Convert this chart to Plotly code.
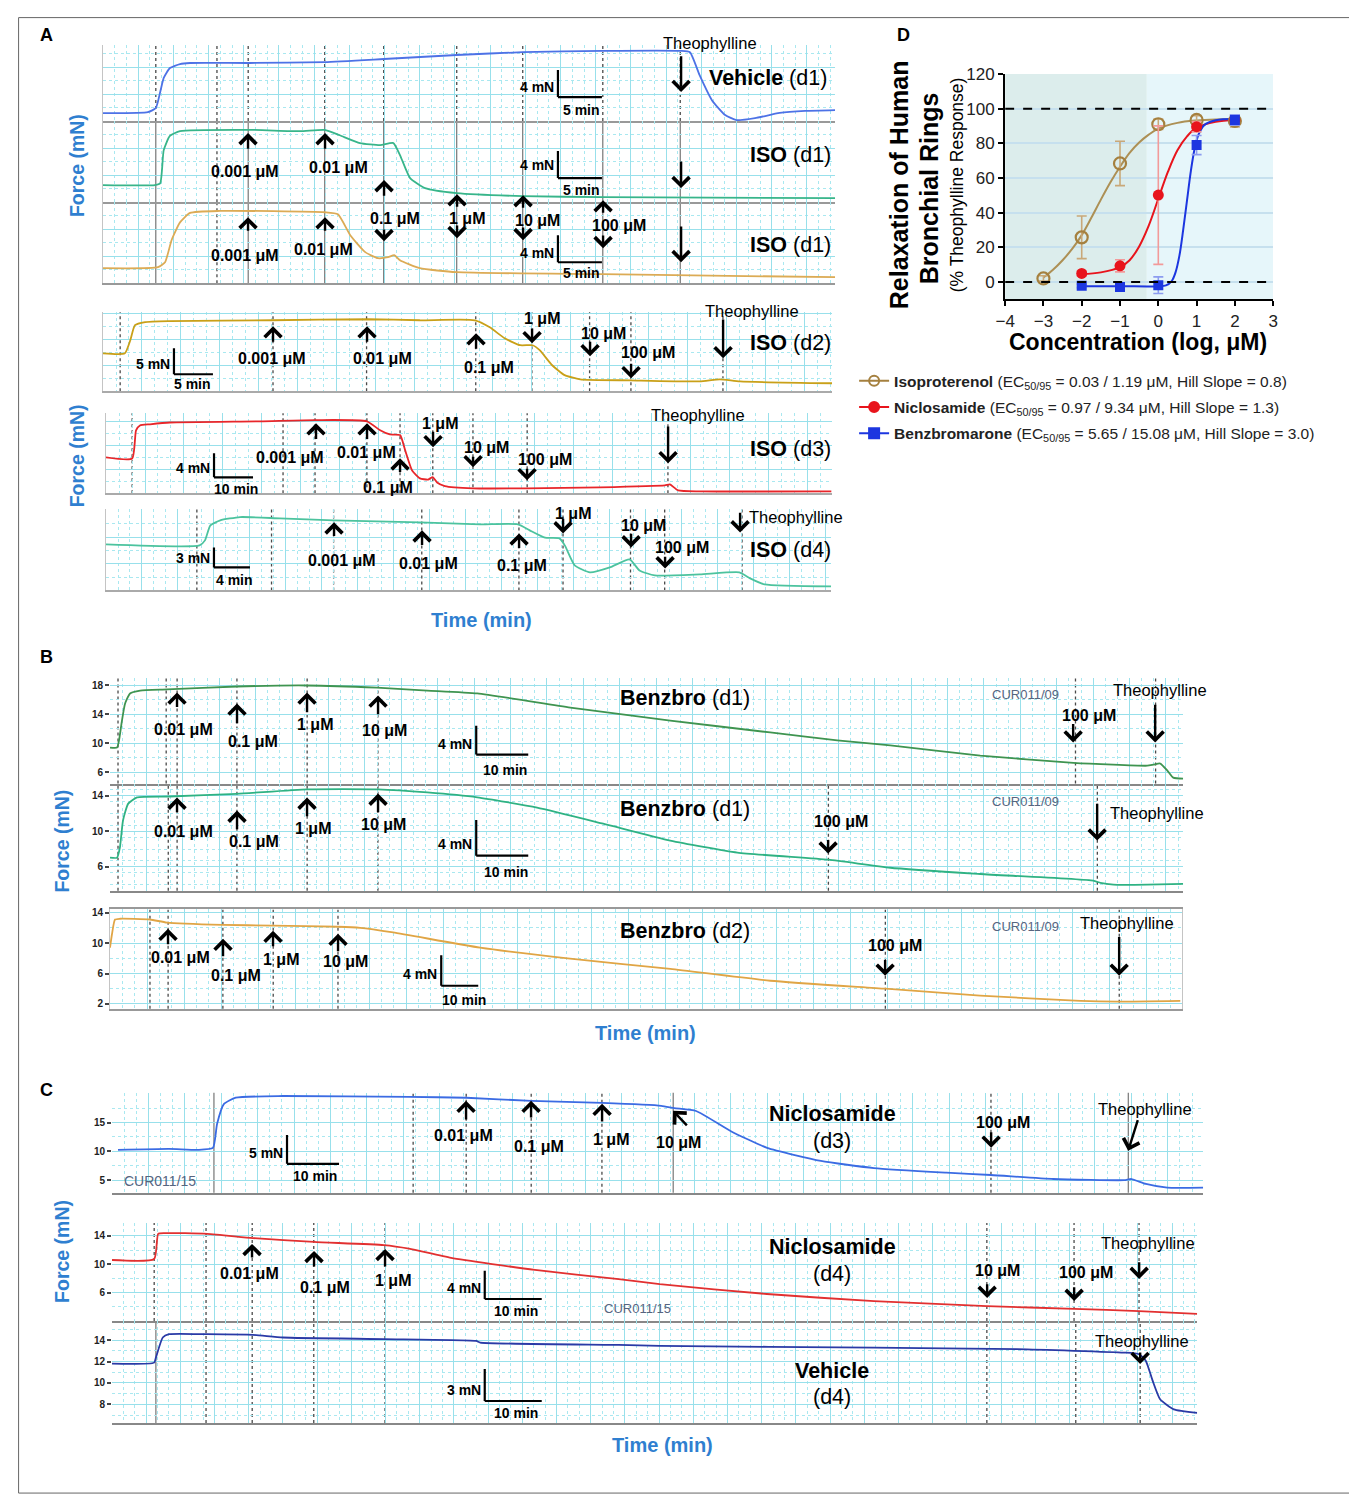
import plotly.graph_objects as go

W, H = 1357, 1498
FW, FH = W, H                 # figure size
# page placement of the figure as observed in the photographed page
OX, OY = 8, 8
SX, SY = 0.9888, 0.9926
CX, CY = 10.1, 9.06
FONT = "Liberation Sans, Arial, Helvetica, sans-serif"

# ===================== DATA =====================
# Panel A - isometric force recordings (time in min, force in mN)
a1_time = [0, 5.1, 6.0, 6.5, 6.9, 7.6, 8.75, 9.9, 16.7, 25.2, 31.9, 40.2, 47.7, 56.8, 65.6, 66.7, 67.8, 69.2, 70.7, 72.0, 74.1, 76.9, 79.8, 83.2]
a1_force = [1.19, 1.33, 1.93, 4.3, 6.4, 7.85, 8.44, 8.6, 8.6, 8.74, 9.19, 9.78, 10.2, 10.4, 10.4, 10.2, 6.8, 3.1, 0.9, 0.15, 0.44, 1.2, 1.5, 1.63]

a2_time = [0, 5.9, 6.5, 6.9, 7.6, 8.75, 16.7, 22.4, 25.2, 26.9, 29.2, 31.5, 33.0, 33.75, 34.9, 36.6, 40.2, 47.7, 56.8, 83.2]
a2_force = [2.52, 2.52, 2.8, 7.7, 9.8, 10.5, 10.7, 10.5, 10.7, 9.9, 8.74, 8.44, 8.74, 6.96, 3.56, 2.07, 1.33, 0.89, 0.74, 0.59]

a3_time = [0, 6.25, 7.05, 7.8, 8.75, 9.9, 13.3, 25.2, 26.7, 28.1, 29.8, 31.25, 32.4, 33.1, 33.75, 36.0, 40.2, 56.8, 83.2]
a3_force = [2.22, 2.37, 3.1, 6.4, 9.0, 10.4, 10.7, 10.5, 10.2, 7.1, 4.6, 3.7, 3.85, 4.15, 3.4, 2.22, 1.63, 1.33, 0.89]

a123_events = [6.0, 12.95, 16.5, 25.2, 31.9, 40.2, 47.7, 56.8, 65.6]

a4_time = [0, 2.8, 3.5, 4.1, 5.4, 8.6, 21.7, 34.0, 40.6, 47.7, 49.6, 51.5, 53.5, 55.1, 56.0, 57.6, 59.2, 61.2, 67.6, 76.5, 79.1, 81.7, 93.5]
a4_force = [7.3, 7.3, 9.8, 12.7, 13.3, 13.5, 13.65, 13.85, 13.65, 13.65, 12.3, 10.2, 8.85, 8.85, 7.9, 5.0, 3.1, 2.3, 2.1, 1.9, 2.3, 1.9, 1.54]
a4_events = [2.2, 21.8, 33.8, 47.8, 55.0, 62.4, 67.7, 79.5]

a5_time = [0, 6.7, 7.7, 8.7, 11.3, 16.4, 39.5, 53.8, 66.9, 70.3, 72.8, 75.4, 76.7, 78.5, 80.5, 82.6, 83.8, 84.9, 86.9, 94.1, 107.9, 126.7, 143.3, 144.6, 146.7, 152.3, 186]
a5_force = [6.0, 5.8, 10.5, 11.3, 11.5, 11.8, 12.0, 12.2, 12.0, 10.5, 9.8, 9.7, 7.2, 3.8, 2.5, 2.3, 2.7, 1.8, 1.2, 0.83, 0.83, 1.0, 1.33, 1.5, 0.5, 0.33, 0.33]
a5_events = [6.7, 45.4, 53.6, 66.9, 75.4, 83.8, 94.1, 108, 144.1]

a6_time = [0, 10.4, 11.0, 11.6, 12.7, 14.9, 19.3, 25.3, 34.9, 41.6, 45.8, 47.1, 48.8, 50.4, 51.0, 52.1, 53.8, 56.0, 58.2, 59.3, 61.0, 66.0, 70.4, 71.6, 73.2, 80.6]
a6_force = [6.9, 6.75, 7.5, 9.75, 10.5, 11.0, 10.8, 10.5, 10.2, 9.9, 9.9, 9.0, 7.9, 7.8, 6.75, 3.75, 2.7, 3.45, 4.65, 3.0, 2.25, 2.4, 2.7, 1.8, 0.9, 0.6]
a6_events = [10.1, 18.4, 25.3, 35.1, 45.9, 50.8, 58.3, 62.1, 70.7]

# Panel B - benzbromarone
b1_time = [0, 1.35, 1.73, 2.3, 2.9, 3.85, 5.8, 11.0, 24.4, 37.9, 51.3, 61.0, 70.6, 88.5, 107.7, 126.9, 139.8, 150, 167.3, 185.2, 199.4, 200.6, 201.9, 203.3, 204.4, 206.3]
b1_force = [9.41, 9.41, 10.4, 13.15, 15.5, 16.9, 17.3, 17.45, 17.86, 18.0, 17.7, 17.3, 16.9, 14.95, 13.15, 11.5, 10.4, 9.7, 8.3, 7.3, 6.9, 7.05, 7.2, 6.2, 5.25, 5.1]
b1_events = [1.54, 10.8, 12.9, 24.4, 37.9, 51.5, 185.6, 201]

b2_time = [0, 1.35, 1.9, 2.5, 3.5, 5.2, 11.5, 24.4, 37.9, 51.5, 61.0, 70.6, 82.1, 94.8, 107.7, 120.6, 138.1, 150, 167.3, 189, 190.4, 192.9, 199.4, 206.3]
b2_force = [7.03, 7.03, 8.16, 11.2, 13.1, 13.8, 13.9, 14.2, 14.7, 14.7, 14.35, 13.8, 12.65, 10.85, 8.95, 7.6, 6.8, 5.9, 5.2, 4.45, 4.2, 4.0, 4.0, 4.1]
b2_events = [1.54, 11.2, 12.9, 24.4, 37.9, 51.5, 138.1, 189.8]

b3_time = [0, 0.54, 1.35, 2.7, 10.8, 15.4, 30.5, 44.1, 61.6, 67.6, 76.5, 100, 124.3, 151.4, 178.4, 209.5, 235.1, 262.2, 272.4, 289.2]
b3_force = [9.4, 11.2, 13.1, 13.2, 13.1, 12.7, 12.4, 12.3, 12.15, 12.0, 11.4, 9.4, 7.95, 6.6, 5.05, 4.0, 3.1, 2.4, 2.3, 2.4]
b3_events = [10.8, 15.7, 30.5, 44.1, 61.6, 209.5, 272.7]

# Panel C - niclosamide / vehicle
c1_time = [1.15, 10.96, 16.5, 19.4, 20.2, 21.5, 23.8, 32.9, 57.1, 68.1, 80.6, 94.2, 105.6, 108.1, 112.3, 119.0, 125.96, 136.3, 146.5, 160.4, 169.0, 181.0, 194.6, 196.0, 198.8, 202.9, 209.8]
c1_force = [10.26, 10.43, 10.26, 10.6, 14.76, 18.2, 19.3, 19.6, 19.45, 19.3, 18.75, 18.4, 17.9, 17.5, 17.0, 13.5, 10.6, 8.35, 7.1, 6.3, 5.9, 5.2, 5.0, 5.2, 4.35, 3.7, 3.7]
c1_events = [19.6, 57.9, 68.1, 80.6, 94.2, 107.9, 169.0, 195.4]

c2_time = [0, 7.4, 8.1, 9.3, 16.7, 24.7, 35.4, 47.7, 52.1, 59.5, 74.2, 88.9, 96.1, 114.9, 133.7, 153.5, 168.8, 180.2, 190.4]
c2_force = [10.6, 10.75, 14.3, 14.4, 14.3, 13.7, 13.15, 12.7, 12.2, 10.9, 9.2, 7.9, 7.2, 5.8, 4.8, 4.1, 3.7, 3.4, 3.0]
c2_events = [7.4, 16.5, 24.6, 35.4, 47.9, 153.5, 168.8, 180.2]

c3_time = [0, 7.4, 7.7, 8.9, 10.0, 16.7, 24.7, 30.0, 47.7, 63.9, 64.6, 88.9, 96.1, 133.7, 158.8, 177.5, 180.2, 181.4, 182.6, 183.9, 186.3, 190.4]
c3_force = [11.8, 11.9, 12.37, 14.25, 14.56, 14.56, 14.5, 14.25, 14.1, 13.93, 13.78, 13.56, 13.47, 13.3, 13.16, 12.84, 12.69, 12.06, 10.19, 8.47, 7.53, 7.2]
c3_events = [7.7, 16.5, 24.6, 35.4, 47.9, 153.5, 169.1, 180.4]

# Panel D - concentration-response (log uM, % theophylline response)
iso_logc = [-3, -2, -1, 0, 1, 2]
iso_resp = [2.0, 25.7, 68.4, 91.0, 93.5, 92.9]
iso_sem = [1.5, 12.3, 12.8, 3.0, 2.5, 3.5]
nic_logc = [-2, -1, 0, 1, 2]
nic_resp = [4.9, 9.3, 50.1, 89.6, 93.5]
nic_sem = [1.5, 3.5, 40.0, 3.0, 3.0]
ben_logc = [-2, -1, 0, 1, 2]
ben_resp = [-2.3, -2.9, -1.9, 79.0, 93.5]
ben_sem = [1.0, 1.8, 4.8, 5.5, 3.0]

iso_fit_x = [-3, -2.75, -2.5, -2.25, -2, -1.75, -1.5, -1.25, -1, -0.75, -0.5, -0.25, 0, 0.5, 1, 1.5, 2]
iso_fit_y = [2.5, 7, 12.5, 19, 27, 37, 47.5, 57.5, 66.5, 74.5, 80.5, 85, 88.5, 91.8, 93.2, 93.8, 94]
nic_fit_x = [-2, -1.5, -1, -0.75, -0.5, -0.25, 0, 0.25, 0.5, 0.75, 1, 1.5, 2]
nic_fit_y = [4.5, 5.5, 8.5, 12.5, 20.5, 32.5, 48, 63.5, 76, 84, 89, 92.5, 93.5]
ben_fit_x = [-2, -1, 0, 0.2, 0.35, 0.45, 0.55, 0.65, 0.75, 0.85, 0.95, 1.05, 1.2, 1.5, 2]
ben_fit_y = [-2.5, -2.5, -2.5, -2, 0.5, 5.5, 15, 30, 47, 64, 77, 85, 90.5, 93.3, 94]

legend_names = [
    "<b>Isoproterenol</b> (EC<sub>50/95</sub> = 0.03 / 1.19 μM, Hill Slope = 0.8)",
    "<b>Niclosamide</b> (EC<sub>50/95</sub> = 0.97 / 9.34 μM, Hill Slope = 1.3)",
    "<b>Benzbromarone</b> (EC<sub>50/95</sub> = 5.65 / 15.08 μM, Hill Slope = 3.0)",
]

# ===================== LAYOUT CONFIG =====================
GRID = '#98e0eb'
GRID2 = '#a9e8f0'


def PX(px):
    return max(0.0, ((px - CX) / SX - OX) / FW)


def PY(py):
    return min(1.0, 1 - ((py - CY) / SY - OY) / FH)


panels = [
    dict(t=a1_time, f=a1_force, c='#4d72e6', ev=a123_events, solid=[], dom=(103, 835, 45, 121), xr=(0, 83.2), yr=(0, 11.26), dx=4, dxm=4/3, dy=4, dym=2, yt=None, bar=(51.7, 3.56, 5, 4), xl=('#999999', 1.5), yl=True),
    dict(t=a2_time, f=a2_force, c='#38b58a', ev=a123_events, solid=[6.0, 16.5, 25.2, 31.9, 40.2, 47.7, 56.8, 65.6], dom=(103, 835, 121, 202), xr=(0, 83.2), yr=(0, 12.0), dx=4, dxm=4/3, dy=4, dym=2, yt=None, bar=(51.7, 3.56, 5, 4), xl=('#999999', 1.5), yl=True),
    dict(t=a3_time, f=a3_force, c='#dcab55', ev=a123_events, solid=[6.0, 16.5, 25.2, 31.9, 40.2, 47.7, 56.8, 65.6], dom=(103, 835, 202, 283), xr=(0, 83.2), yr=(0, 12.0), dx=4, dxm=4/3, dy=4, dym=2, yt=None, bar=(51.7, 3.1, 5, 4), xl=('#999999', 1.5), yl=True),
    dict(t=a4_time, f=a4_force, c='#c9a018', ev=a4_events, solid=[], dom=(103, 832, 312, 391), xr=(0, 93.5), yr=(0, 15.2), dx=5, dxm=5/3, dy=5, dym=2.5, yt=None, bar=(9.1, 3.27, 5, 5), xl=('#aaaaaa', 1.5), yl=True),
    dict(t=a5_time, f=a5_force, c='#e8262a', ev=a5_events, solid=[], dom=(106, 832, 413, 493), xr=(0, 186.2), yr=(0, 13.33), dx=10, dxm=10/3, dy=4, dym=2, yt=None, bar=(27.7, 2.67, 10, 4), xl=('#aaaaaa', 1.5), yl=True),
    dict(t=a6_time, f=a6_force, c='#4cc39e', ev=a6_events, solid=[], dom=(106, 831, 509, 590), xr=(0, 80.6), yr=(0, 12.15), dx=4, dxm=4/3, dy=4, dym=2, yt=None, bar=(12.0, 3.45, 4, 3), xl=('#aaaaaa', 1.5), yl=True),
    dict(t=b1_time, f=b1_force, c='#3f9450', ev=b1_events, solid=[], dom=(110, 1183, 678, 783), xr=(0, 206.3), yr=(4.43, 18.97), dx=7, dxm=7/3, dy=4, dym=2, yt=[6, 10, 14, 18], bar=(70.4, 8.44, 10, 4), xl=('#888888', 2), yl=False),
    dict(t=b2_time, f=b2_force, c='#2fb283', ev=b2_events, solid=[], dom=(110, 1183, 783, 890), xr=(0, 206.3), yr=(3.33, 15.35), dx=7, dxm=7/3, dy=4, dym=4/3, yt=[6, 10, 14], bar=(70.4, 7.26, 10, 4), xl=('#888888', 2), yl=False),
    dict(t=b3_time, f=b3_force, c='#e0a545', ev=b3_events, solid=[], dom=(110, 1182, 908, 1008), xr=(0, 289.7), yr=(1.37, 14.53), dx=10, dxm=10/3, dy=4, dym=2, yt=[2, 6, 10, 14], bar=(89.5, 4.39, 10, 4), xl=('#999999', 2), yl=False, box=True),
    dict(t=c1_time, f=c1_force, c='#3b6be3', ev=c1_events, solid=[19.6, 107.9, 195.4], dom=(112, 1203, 1092, 1192), xr=(0, 209.8), yr=(2.8, 20.16), dx=7, dxm=7/3, dy=5, dym=2.5, yt=[5, 10, 15], bar=(33.65, 7.83, 10, 5), xl=('#888888', 2), yl=False),
    dict(t=c2_time, f=c2_force, c='#e23030', ev=c2_events, solid=[], dom=(112, 1197, 1222, 1320), xr=(0, 190.4), yr=(2.0, 15.84), dx=6, dxm=2, dy=4, dym=2, yt=[6, 10, 14], bar=(65.4, 5.1, 10, 4), xl=('#888888', 2), yl=False),
    dict(t=c3_time, f=c3_force, c='#2a3aa6', ev=c3_events, solid=[7.7], dom=(112, 1197, 1320, 1422), xr=(0, 190.4), yr=(6.25, 15.8), dx=6, dxm=2, dy=2, dym=1, yt=[8, 10, 12, 14], bar=(65.4, 8.31, 10, 3), xl=('#888888', 2), yl=False),
]

fig = go.Figure()
shapes = []
lay = {}

for i, p in enumerate(panels, start=1):
    xa, ya = ('x', 'y') if i == 1 else (f'x{i}', f'y{i}')
    xk, yk = ('xaxis', 'yaxis') if i == 1 else (f'xaxis{i}', f'yaxis{i}')
    fig.add_trace(go.Scatter(x=p['t'], y=p['f'], mode='lines', xaxis=xa, yaxis=ya,
                             line=dict(color=p['c'], width=1.8, shape='spline', smoothing=0.5),
                             showlegend=False, hoverinfo='skip'))
    x0, x1, y0, y1 = p['dom']
    lay[xk] = dict(domain=[PX(x0), PX(x1)], range=list(p['xr']), anchor=ya,
                   showgrid=True, dtick=p['dx'], tick0=0, gridcolor=GRID, gridwidth=1,
                   minor=dict(dtick=p['dxm'], tick0=0, showgrid=True, gridcolor=GRID2, griddash='dot', gridwidth=1),
                   showticklabels=False, ticks='', zeroline=False,
                   showline=True, linecolor=p['xl'][0], linewidth=p['xl'][1],
                   mirror=p.get('box', False), fixedrange=True)
    ydict = dict(domain=[PY(y1), PY(y0)], range=list(p['yr']), anchor=xa,
                 showgrid=True, gridcolor=GRID, gridwidth=1, zeroline=False,
                 minor=dict(dtick=p['dym'], tick0=0, showgrid=True, gridcolor=GRID2, griddash='dot', gridwidth=1),
                 fixedrange=True)
    if p['yt'] is None:
        ydict.update(dtick=p['dy'], tick0=0, showticklabels=False, ticks='')
    else:
        ydict.update(tickvals=p['yt'], ticktext=[str(v) for v in p['yt']], ticks='outside', ticklen=4,
                     tickwidth=1.5, tickcolor='#444',
                     tickfont=dict(size=10, color='#222', family=FONT, weight='bold'))
    if p['yl'] or p.get('box'):
        ydict.update(showline=True, linecolor='#c4c4c4', linewidth=1, mirror=p.get('box', False))
    else:
        ydict.update(showline=False)
    lay[yk] = ydict
    # drug addition marks
    for e in p['ev']:
        solid = e in p['solid']
        shapes.append(dict(type='line', xref=xa, yref=f'{ya} domain', x0=e, x1=e, y0=0, y1=1,
                           line=dict(color='#6a6a6a' if solid else '#4a4a4a', width=1.1 if solid else 1.3,
                                     dash='solid' if solid else 'dot'), layer='below'))
    # calibration bars
    bx, by, bmin, bmn = p['bar']
    shapes.append(dict(type='line', xref=xa, yref=ya, x0=bx, x1=bx, y0=by, y1=by + bmn,
                       line=dict(color='black', width=2.2), layer='above'))
    shapes.append(dict(type='line', xref=xa, yref=ya, x0=bx, x1=bx + bmin, y0=by, y1=by,
                       line=dict(color='black', width=2.2), layer='above'))

# ---------- Panel D ----------
dx_, dy_ = 'x13', 'y13'
lay['xaxis13'] = dict(domain=[PX(1005), PX(1273)], range=[-4, 3], anchor=dy_, dtick=1, tick0=-4,
                      showgrid=False, zeroline=False, showline=True, linecolor='black', linewidth=2,
                      ticks='outside', ticklen=5, tickwidth=2, tickcolor='black',
                      tickfont=dict(size=17, color='#222', family=FONT), fixedrange=True)
lay['yaxis13'] = dict(domain=[PY(299), PY(74)], range=[-10, 120], anchor=dx_, dtick=20, tick0=0,
                      showgrid=True, gridcolor='#c6e0ee', gridwidth=1.5, zeroline=False,
                      showline=True, linecolor='black', linewidth=2,
                      ticks='outside', ticklen=5, tickwidth=2, tickcolor='black',
                      tickfont=dict(size=17, color='#222', family=FONT), fixedrange=True)
shapes.append(dict(type='rect', xref=dx_, yref=dy_, x0=-4, x1=-0.3, y0=-10, y1=120,
                   fillcolor='#dcedec', line=dict(width=0), layer='below'))
shapes.append(dict(type='rect', xref=dx_, yref=dy_, x0=-0.3, x1=3, y0=-10, y1=120,
                   fillcolor='#e6f6fa', line=dict(width=0), layer='below'))
for yv in (0, 100):
    shapes.append(dict(type='line', xref=dx_, yref=dy_, x0=-4, x1=3, y0=yv, y1=yv,
                       line=dict(color='black', width=2, dash='dash'), layer='above'))

ISO_C, NIC_C, BEN_C = '#a5803f', '#e8141c', '#1c36e0'
fig.add_trace(go.Scatter(x=iso_fit_x, y=iso_fit_y, mode='lines', xaxis=dx_, yaxis=dy_,
                         line=dict(color='#ad9055', width=2, shape='spline'), showlegend=False, hoverinfo='skip'))
fig.add_trace(go.Scatter(x=nic_fit_x, y=nic_fit_y, mode='lines', xaxis=dx_, yaxis=dy_,
                         line=dict(color=NIC_C, width=2, shape='spline'), showlegend=False, hoverinfo='skip'))
fig.add_trace(go.Scatter(x=ben_fit_x, y=ben_fit_y, mode='lines', xaxis=dx_, yaxis=dy_,
                         line=dict(color=BEN_C, width=2, shape='spline'), showlegend=False, hoverinfo='skip'))
fig.add_trace(go.Scatter(x=iso_logc, y=iso_resp, mode='markers', xaxis=dx_, yaxis=dy_,
                         error_y=dict(type='data', array=iso_sem, color='#c9a878', thickness=1.6, width=5),
                         marker=dict(symbol='circle-open', size=12, color=ISO_C, line=dict(width=2.2, color=ISO_C)),
                         showlegend=False, hoverinfo='skip'))
fig.add_trace(go.Scatter(x=nic_logc, y=nic_resp, mode='markers', xaxis=dx_, yaxis=dy_,
                         error_y=dict(type='data', array=nic_sem, color='#f29a9a', thickness=1.6, width=5),
                         marker=dict(symbol='circle', size=11, color=NIC_C),
                         showlegend=False, hoverinfo='skip'))
fig.add_trace(go.Scatter(x=ben_logc, y=ben_resp, mode='markers', xaxis=dx_, yaxis=dy_,
                         error_y=dict(type='data', array=ben_sem, color='#8c9cf0', thickness=1.6, width=5),
                         marker=dict(symbol='square', size=10, color=BEN_C),
                         showlegend=False, hoverinfo='skip'))
# legend entries
for k, (name, sym, col) in enumerate(zip(legend_names, ['circle-open', 'circle', 'square'], ['#a5803f', NIC_C, BEN_C])):
    fig.add_trace(go.Scatter(x=[None], y=[None], mode='lines+markers', name=name, xaxis=dx_, yaxis=dy_,
                             legendgroup=f'g{k}',
                             line=dict(color=col, width=2),
                             marker=dict(symbol=sym, size=10, color=col, line=dict(width=2, color=col))))

# ---------- Text ----------
ann = []


def T(px, py, s, size=16, color='black', anchor='center', angle=0):
    ann.append(dict(x=PX(px), y=PY(py), xref='paper', yref='paper', text=s, showarrow=False,
                    font=dict(size=size, color=color, family=FONT), xanchor=anchor, yanchor='middle',
                    textangle=angle))


def AR(hx, hy, tx, ty):
    ann.append(dict(x=PX(hx), y=PY(hy), xref='paper', yref='paper', ax=(tx - hx) / SX, ay=(ty - hy) / SY,
                    axref='pixel', ayref='pixel', text='', showarrow=True, arrowhead=4, arrowsize=1.35,
                    arrowwidth=2.4, arrowcolor='black', standoff=0))


BLUE = '#2f7fd0'
for s, x, y in [('A', 47, 35), ('B', 47, 657), ('C', 47, 1089), ('D', 903, 35)]:
    T(x, y, f'<b>{s}</b>', 18)
for y in (165, 455):
    T(77, y, '<b>Force (mN)</b>', 19.5, BLUE, angle=-90)
for y in (840, 1250):
    T(62, y, '<b>Force (mN)</b>', 19.5, BLUE, angle=-90)
T(481, 620, '<b>Time (min)</b>', 20, BLUE)
T(645, 1032, '<b>Time (min)</b>', 20, BLUE)
T(662, 1444, '<b>Time (min)</b>', 20, BLUE)

LBL = 21.5   # size of trace labels
TH = 16.5    # Theophylline label size


def M(s):
    return f'<b>{s} μM</b>'


# A1
T(710, 43, 'Theophylline', TH); AR(681, 92, 681, 55)
T(768, 78, '<b>Vehicle</b> (d1)', LBL)
# A2
AR(248, 133, 248, 150); AR(325, 133, 325, 150); AR(384, 180, 384, 197)
T(245, 171, M('0.001')); T(338, 167, M('0.01'))
AR(681, 188, 681, 160); T(790, 155, '<b>ISO</b> (d1)', LBL)
# A2/A3 shared labels
AR(457, 194, 457, 208); AR(523, 195, 523, 209); AR(603, 200, 603, 214)
T(395, 218, M('0.1')); T(467, 218, M('1')); T(537, 220, M('10')); T(619, 225, M('100'))
AR(384, 241, 384, 228); AR(457, 238, 457, 224); AR(523, 240, 523, 226); AR(603, 248, 603, 234)
# A3
AR(248, 217, 248, 232); AR(325, 217, 325, 232)
T(245, 255, M('0.001')); T(323, 249, M('0.01'))
AR(681, 262, 681, 225); T(790, 245, '<b>ISO</b> (d1)', LBL)
# A4
AR(273, 326, 273, 343); AR(367, 326, 367, 343); AR(476, 333, 476, 350)
T(272, 358, M('0.001')); T(382, 358, M('0.01')); T(489, 367, M('0.1'))
AR(532, 343, 532, 327); AR(590, 356, 590, 340); AR(631, 378, 631, 362); AR(723, 358, 723, 318)
T(542, 318, M('1')); T(603, 333, M('10')); T(648, 352, M('100'))
T(752, 311, 'Theophylline', TH); T(790, 343, '<b>ISO</b> (d2)', LBL)
# A5
AR(316, 423, 316, 440); AR(367, 423, 367, 440); AR(400, 458, 400, 473)
T(290, 457, M('0.001')); T(366, 452, M('0.01')); T(388, 487, M('0.1'))
AR(433, 447, 433, 430); AR(473, 467, 473, 455); AR(527, 480, 527, 467); AR(668, 463, 668, 425)
T(440, 423, M('1')); T(486, 447, M('10')); T(545, 459, M('100'))
T(698, 415, 'Theophylline', TH); T(790, 449, '<b>ISO</b> (d3)', LBL)
# A6
AR(334, 522, 334, 537); AR(422, 530, 422, 546); AR(519, 533, 519, 549)
T(342, 560, M('0.001')); T(428, 563, M('0.01')); T(522, 565, M('0.1'))
AR(563, 533, 563, 517); AR(631, 547, 631, 532); AR(665, 568, 665, 555); AR(740, 532, 740, 511)
T(573, 513, M('1')); T(643, 525, M('10')); T(682, 547, M('100'))
T(747, 517, 'Theophylline', TH, anchor='left'); T(790, 550, '<b>ISO</b> (d4)', LBL)
# B1
AR(177, 692, 177, 708); AR(237, 703, 237, 724); AR(307, 692, 307, 713); AR(378, 695, 378, 715)
T(183, 729, M('0.01')); T(253, 741, M('0.1')); T(315, 724, M('1')); T(384, 730, M('10'))
T(685, 698, '<b>Benzbro</b> (d1)', LBL); T(1025, 694, 'CUR011/09', 13, '#56657f')
AR(1073, 742, 1073, 722); T(1089, 715, M('100'))
AR(1155, 742, 1155, 703); T(1160, 690, 'Theophylline', TH)
# B2
AR(177, 797, 177, 813); AR(237, 810, 237, 830); AR(307, 797, 307, 817); AR(378, 793, 378, 813)
T(183, 831, M('0.01')); T(254, 841, M('0.1')); T(313, 828, M('1')); T(383, 824, M('10'))
T(685, 808, '<b>Benzbro</b> (d1)', LBL); T(1025, 801, 'CUR011/09', 13, '#56657f')
AR(828, 853, 828, 838); T(841, 821, M('100'))
AR(1097, 840, 1097, 802); T(1157, 812, 'Theophylline', TH)
# B3
AR(168, 928, 168, 945); AR(223, 938, 223, 957); AR(273, 930, 273, 947); AR(338, 933, 338, 952)
T(180, 957, M('0.01')); T(236, 975, M('0.1')); T(281, 959, M('1')); T(345, 961, M('10'))
T(685, 930, '<b>Benzbro</b> (d2)', LBL); T(1025, 926, 'CUR011/09', 13, '#56657f')
AR(885, 975, 885, 958); T(895, 945, M('100'))
AR(1119, 975, 1119, 935); T(1127, 922, 'Theophylline', TH)
# C1
AR(466, 1100, 466, 1120); AR(531, 1100, 531, 1118); AR(602, 1103, 602, 1122)
T(463, 1135, M('0.01')); T(539, 1146, M('0.1')); T(611, 1139, M('1'))
AR(673, 1110, 688, 1126); T(678, 1142, M('10'))
T(832, 1113, '<b>Niclosamide</b>', LBL); T(832, 1140, '(d3)', LBL)
AR(991, 1147, 991, 1130); T(1003, 1122, M('100'))
AR(1128, 1150, 1138, 1118); T(1145, 1108, 'Theophylline', TH)
T(160, 1180, 'CUR011/15', 14, '#56657f')
# C2
AR(252, 1243, 252, 1258); AR(314, 1250, 314, 1267); AR(385, 1248, 385, 1267)
T(249, 1273, M('0.01')); T(325, 1287, M('0.1')); T(393, 1280, M('1'))
T(832, 1246, '<b>Niclosamide</b>', LBL); T(832, 1273, '(d4)', LBL)
AR(987, 1297, 987, 1282); T(997, 1270, M('10'))
AR(1074, 1300, 1074, 1285); T(1086, 1272, M('100'))
AR(1139, 1278, 1139, 1260); T(1148, 1242, 'Theophylline', TH)
T(637, 1308, 'CUR011/15', 13, '#56657f')
# C3
T(832, 1370, '<b>Vehicle</b>', LBL); T(832, 1396, '(d4)', LBL)
AR(1140, 1363, 1140, 1350); T(1142, 1340, 'Theophylline', TH)
# calibration bar labels
for px, py, s in [(556, 87, '4 mN'), (556, 165, '4 mN'), (556, 253, '4 mN'), (172, 364, '5 mN'),
                  (212, 468, '4 mN'), (212, 558, '3 mN'), (474, 743, '4 mN'), (474, 843, '4 mN'),
                  (439, 973, '4 mN'), (285, 1152, '5 mN'), (483, 1287, '4 mN'), (483, 1389, '3 mN')]:
    T(px, py, f'<b>{s}</b>', 14, anchor='right')
for px, py, s in [(581, 110, '5 min'), (581, 190, '5 min'), (581, 273, '5 min'), (192, 384, '5 min'),
                  (236, 489, '10 min'), (234, 580, '4 min'), (505, 769, '10 min'), (506, 871, '10 min'),
                  (464, 999, '10 min'), (315, 1175, '10 min'), (516, 1310, '10 min'), (516, 1412, '10 min')]:
    T(px, py, f'<b>{s}</b>', 14)
# Panel D titles
T(899, 185, '<b>Relaxation of Human</b>', 25, angle=-90)
T(929, 188, '<b>Bronchial Rings</b>', 25, angle=-90)
T(957, 185, '(% Theophylline Response)', 17.5, angle=-90)
T(1138, 342, '<b>Concentration (log, μM)</b>', 23)

# outer frame
shapes.append(dict(type='rect', xref='paper', yref='paper', x0=max(PX(8), 0.6 / FW), x1=PX(1350),
                   y0=PY(1492), y1=min(PY(8), 1 - 0.6 / FH),
                   line=dict(color='#666666', width=1), layer='above'))

fig.update_layout(width=FW, height=FH, margin=dict(l=0, r=0, t=0, b=0),
                  paper_bgcolor='white', plot_bgcolor='white',
                  font=dict(family=FONT, color='black'),
                  shapes=shapes, annotations=ann,
                  legend=dict(x=PX(854), y=PY(364), xanchor='left', yanchor='top',
                              font=dict(size=15.5, family=FONT, color='#222'), bgcolor='rgba(0,0,0,0)',
                              itemwidth=30, tracegroupgap=3),
                  **lay)

fig.write_html("out.html")
